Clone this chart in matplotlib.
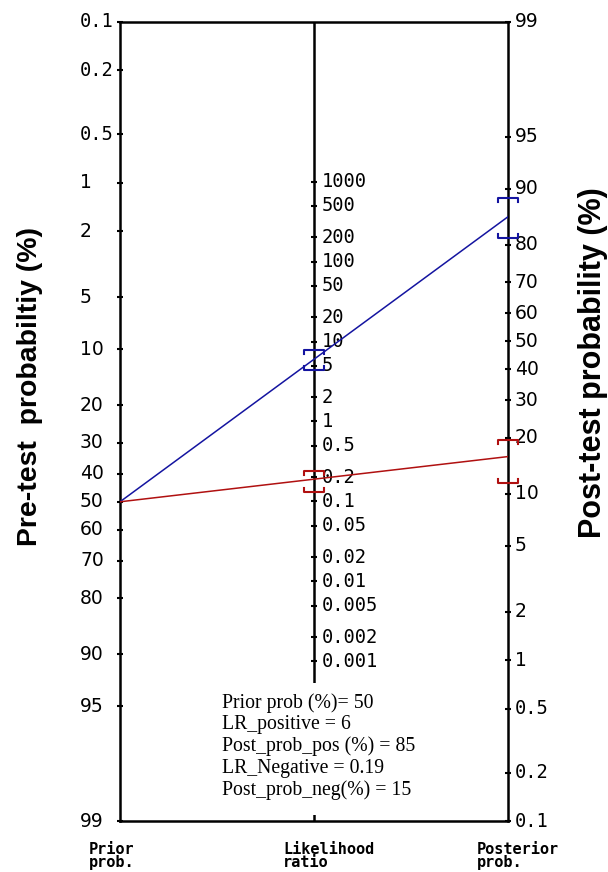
import numpy as np
import matplotlib
matplotlib.use('Agg')
import matplotlib.pyplot as plt
from matplotlib.patches import Rectangle

# nomogram scales
prior_ticks = [0.1, 0.2, 0.5, 1, 2, 5, 10, 20, 30, 40, 50, 60, 70, 80, 90, 95, 99]
post_ticks = [99, 95, 90, 80, 70, 60, 50, 40, 30, 20, 10, 5, 2, 1, 0.5, 0.2, 0.1]
lr_ticks = [1000, 500, 200, 100, 50, 20, 10, 5, 2, 1, 0.5, 0.2, 0.1,
            0.05, 0.02, 0.01, 0.005, 0.002, 0.001]

# test results
prior_prob = 50
lr_pos = 6
lr_pos_ci = [4.4, 7.9]
lr_neg = 0.19
lr_neg_ci = [0.13, 0.24]
summary = ['Prior prob (%)= 50',
           'LR_positive = 6',
           'Post_prob_pos (%) = 85',
           'LR_Negative = 0.19',
           'Post_prob_neg(%) = 15']


def logit(p):
    p = np.asarray(p, dtype=float) / 100.0
    return np.log(p / (1 - p))


lo = logit(0.1)
hi = logit(99)
c = -lo - hi   # shift of the posterior scale


def v_prior(p):
    return -logit(p)


def v_post(p):
    return logit(p) + c


def v_lr(lr):
    return (np.log(lr) + c) / 2


fig = plt.figure(figsize=(6.08, 8.72), dpi=100)
ax = fig.add_axes([120/608, 51/872, 388/608, 799/872])
ax.set_xlim(0, 1)
ax.set_ylim(-hi, -lo)
ax.set_xticks([])
ax.set_yticks([])
for s in ax.spines.values():
    s.set_linewidth(1.8)

mono = 'DejaVu Sans Mono'

# middle axis
ax.plot([0.5, 0.5], [-hi, -lo], color='black', lw=1.8, zorder=2)

# tick marks + labels
def draw_scale(x, vals, pos, lx):
    ax.plot([x] * len(vals), pos, ls='none', marker='_', ms=5, mew=1.5,
            color='black', zorder=3, clip_on=False)
    for t, v in zip(vals, pos):
        lab = f'{t:g}'
        fam = mono if '.' in lab or x == 0.5 else 'DejaVu Sans'
        ax.text(lx, v, lab, ha='left', va='center', fontsize=13.5,
                family=fam, clip_on=False)

draw_scale(0, prior_ticks, v_prior(prior_ticks), -40/388)
draw_scale(1, post_ticks, v_post(post_ticks), 1 + 7/388)
draw_scale(0.5, lr_ticks, v_lr(lr_ticks), 0.5 + 8/388)

# lines through the nomogram
def draw_test(lr, ci, color):
    y0 = v_prior(prior_prob)
    y1 = logit(prior_prob) + np.log(lr) + c
    ax.plot([0, 1], [y0, y1], color=color, lw=1.1, zorder=4)
    w = 10/388
    h = 4/69.4
    for k, b in enumerate(ci):
        sgn = -1 if k == 1 else 1
        for x, v in [(0.5, v_lr(b)), (1, logit(prior_prob) + np.log(b) + c)]:
            ax.plot([x - w, x - w, x + w, x + w], [v + sgn * h, v, v, v + sgn * h],
                    color=color, lw=1.5, zorder=4, clip_on=False)

draw_test(lr_pos, lr_pos_ci, '#1414a0')
draw_test(lr_neg, lr_neg_ci, '#b01010')

# summary box
ax.add_patch(Rectangle((85/388, 6/799), 230/388, 132/799, transform=ax.transAxes,
                       facecolor='white', edgecolor='none', zorder=5))
ax.text(102/388, 128/799, '\n'.join(summary), transform=ax.transAxes,
        ha='left', va='top', fontsize=14.2, family='Liberation Serif',
        linespacing=1.17, zorder=6)

# axis titles
fig.text(30/608, 1 - 387/872, 'Pre-test  probabiltiy (%)', rotation=90,
         ha='center', va='center', fontsize=20.4, fontweight='bold',
         family='Liberation Sans')
fig.text(593/608, 1 - 363/872, 'Post-test probability (%)', rotation=90,
         ha='center', va='center', fontsize=22, fontweight='bold',
         family='Liberation Sans')

for x, s in [(89, 'Prior\nprob.'), (283, 'Likelihood\nratio'), (477, 'Posterior\nprob.')]:
    fig.text(x/608, 1 - 842/872, s, ha='left', va='top', fontsize=11,
             fontweight='bold', family=mono, linespacing=0.85)

fig.savefig('out.png', dpi=100)
